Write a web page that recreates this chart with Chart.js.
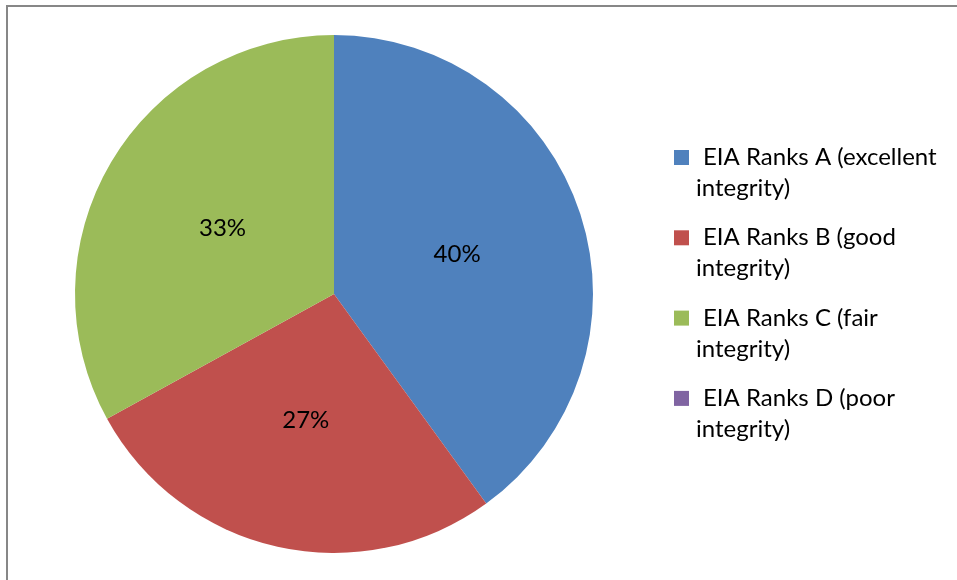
<!DOCTYPE html>
<html>
<head>
<meta charset="utf-8">
<script src="https://cdn.jsdelivr.net/npm/chart.js@4/dist/chart.umd.min.js"></script>
<style>
  html, body { margin: 0; padding: 0; background: #ffffff; }
  #wrap { position: relative; width: 957px; height: 580px; }
</style>
</head>
<body>
<div id="wrap"><canvas id="c" width="957" height="580"></canvas></div>
<script>
// Share of sites by EIA rank
const categories = [
  'EIA Ranks A (excellent integrity)',
  'EIA Ranks B (good integrity)',
  'EIA Ranks C (fair integrity)',
  'EIA Ranks D (poor integrity)'
];
const legendLines = [
  ['EIA Ranks A (excellent', 'integrity)'],
  ['EIA Ranks B (good', 'integrity)'],
  ['EIA Ranks C (fair', 'integrity)'],
  ['EIA Ranks D (poor', 'integrity)']
];
const shares = [40, 27, 33, 0];
const sliceColors = ['#4F81BD', '#C0504D', '#9BBB59', '#8064A2'];

const FONT = '24px Lato, "Open Sans", sans-serif';

// Frame line along the top and left of the plot area
const framePlugin = {
  id: 'frame',
  beforeDraw(chart) {
    const ctx = chart.ctx;
    ctx.save();
    ctx.strokeStyle = '#878787';
    ctx.lineWidth = 2;
    ctx.beginPath();
    ctx.moveTo(7, chart.height);
    ctx.lineTo(7, 6);
    ctx.lineTo(chart.width, 6);
    ctx.stroke();
    ctx.restore();
  }
};

// Percentage labels in the middle of each slice
const sliceLabels = {
  id: 'sliceLabels',
  afterDatasetsDraw(chart) {
    const ctx = chart.ctx;
    const meta = chart.getDatasetMeta(0);
    ctx.save();
    ctx.font = FONT;
    ctx.fillStyle = '#000000';
    ctx.textAlign = 'center';
    ctx.textBaseline = 'middle';
    meta.data.forEach((arc, i) => {
      const v = chart.data.datasets[0].data[i];
      if (!v) return;
      const p = arc.tooltipPosition();
      ctx.fillText(v + '%', p.x, p.y);
    });
    ctx.restore();
  }
};

// Legend on the right, two lines per entry
const sideLegend = {
  id: 'sideLegend',
  afterDraw(chart) {
    const ctx = chart.ctx;
    const boxX = 674, firstBase = 165, step = 80.3, lineGap = 31;
    ctx.save();
    ctx.font = FONT;
    ctx.textBaseline = 'alphabetic';
    ctx.textAlign = 'left';
    legendLines.forEach((lines, i) => {
      const base = firstBase + i * step;
      ctx.fillStyle = sliceColors[i];
      ctx.fillRect(boxX, base - 15, 15, 15);
      ctx.fillStyle = '#000000';
      ctx.fillText(lines[0], 703, base);
      ctx.fillText(lines[1], 696, base + lineGap);
    });
    ctx.restore();
  }
};

new Chart(document.getElementById('c'), {
  type: 'pie',
  data: {
    labels: categories,
    datasets: [{
      data: shares,
      backgroundColor: sliceColors,
      borderWidth: 0
    }]
  },
  options: {
    responsive: false,
    animation: false,
    layout: { padding: { left: 75, right: 364, top: 35, bottom: 27 } },
    plugins: {
      legend: { display: false },
      tooltip: { enabled: false }
    }
  },
  plugins: [framePlugin, sliceLabels, sideLegend]
});
</script>
</body>
</html>
